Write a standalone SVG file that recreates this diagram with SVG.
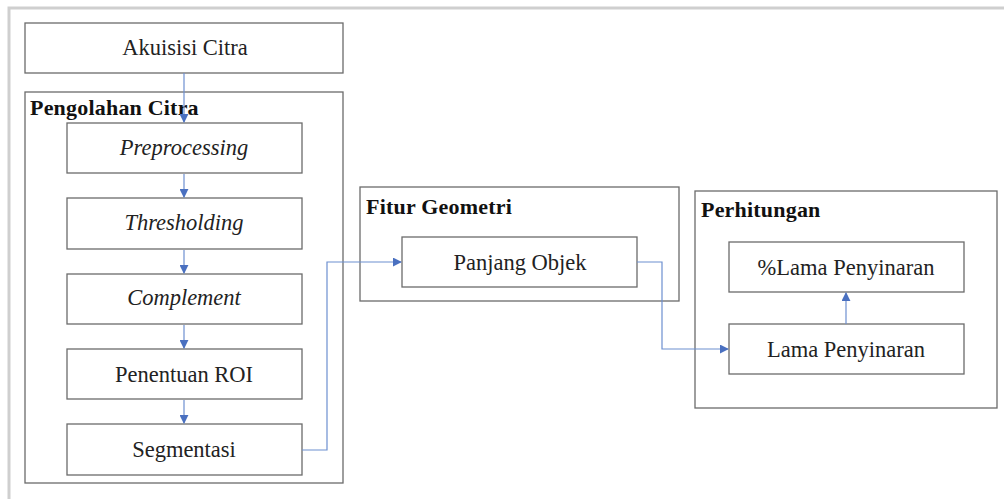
<svg xmlns="http://www.w3.org/2000/svg" width="1004" height="499" viewBox="0 0 1004 499">
<defs>
<style>
.box{fill:#fff;stroke:#6b6b6b;stroke-width:1.3}
.cont{fill:none;stroke:#6b6b6b;stroke-width:1.3}
.t{font-family:"Liberation Serif","Times New Roman",serif;font-size:22.5px;fill:#222;text-anchor:middle}
.i{font-style:italic}
.h{font-family:"Liberation Serif","Times New Roman",serif;font-size:22px;font-weight:bold;fill:#111;letter-spacing:0.2px}
.c{fill:none;stroke:#6d8fd0;stroke-width:1.2}
</style>
<marker id="a" viewBox="0 0 10 10" refX="9" refY="5" markerWidth="9" markerHeight="9" markerUnits="userSpaceOnUse" orient="auto">
<path d="M0,0 L10,5 L0,10 z" fill="#4a70c0"/>
</marker>
</defs>
<rect x="0" y="0" width="1004" height="499" fill="#fff"/>
<path d="M9,499 V8 H1004" fill="none" stroke="#cfcfcf" stroke-width="3"/>

<g id="akuisisi"><rect class="box" x="25" y="23" width="318" height="50"/><text class="t" x="185" y="55">Akuisisi Citra</text></g>
<g id="pengolahan"><rect class="cont" x="25" y="92" width="318" height="391"/><text class="h" x="30" y="115">Pengolahan Citra</text></g>
<g id="preprocessing"><rect class="box" x="67" y="123" width="235" height="50"/><text class="t i" x="184" y="155">Preprocessing</text></g>
<g id="thresholding"><rect class="box" x="67" y="198" width="235" height="51"/><text class="t i" x="184" y="230">Thresholding</text></g>
<g id="complement"><rect class="box" x="67" y="274" width="235" height="50"/><text class="t i" x="184" y="305">Complement</text></g>
<g id="roi"><rect class="box" x="67" y="349" width="235" height="50"/><text class="t" x="184" y="382">Penentuan ROI</text></g>
<g id="segmentasi"><rect class="box" x="67" y="424" width="235" height="51"/><text class="t" x="184" y="457">Segmentasi</text></g>

<g id="fitur"><rect class="cont" x="360" y="187" width="319" height="114"/><text class="h" x="366" y="214">Fitur Geometri</text></g>
<g id="panjang"><rect class="box" x="402" y="237" width="235" height="50"/><text class="t" x="520" y="270">Panjang Objek</text></g>

<g id="perhitungan"><rect class="cont" x="695" y="191" width="302" height="217"/><text class="h" x="701" y="217">Perhitungan</text></g>
<g id="persen"><rect class="box" x="729" y="242" width="235" height="50"/><text class="t" x="846" y="275">%Lama Penyinaran</text></g>
<g id="lama"><rect class="box" x="729" y="324" width="235" height="50"/><text class="t" x="846" y="357">Lama Penyinaran</text></g>

<g id="connectors">
<path class="c" d="M184,73 V122" marker-end="url(#a)"/>
<path class="c" d="M184,174 V197" marker-end="url(#a)"/>
<path class="c" d="M184,250 V273" marker-end="url(#a)"/>
<path class="c" d="M184,325 V348" marker-end="url(#a)"/>
<path class="c" d="M184,400 V423" marker-end="url(#a)"/>
<path class="c" d="M302,450 H327 V262 H401" marker-end="url(#a)"/>
<path class="c" d="M637,262 H662 V349 H728" marker-end="url(#a)"/>
<path class="c" d="M846,324 V293" marker-end="url(#a)"/>
</g>
</svg>
